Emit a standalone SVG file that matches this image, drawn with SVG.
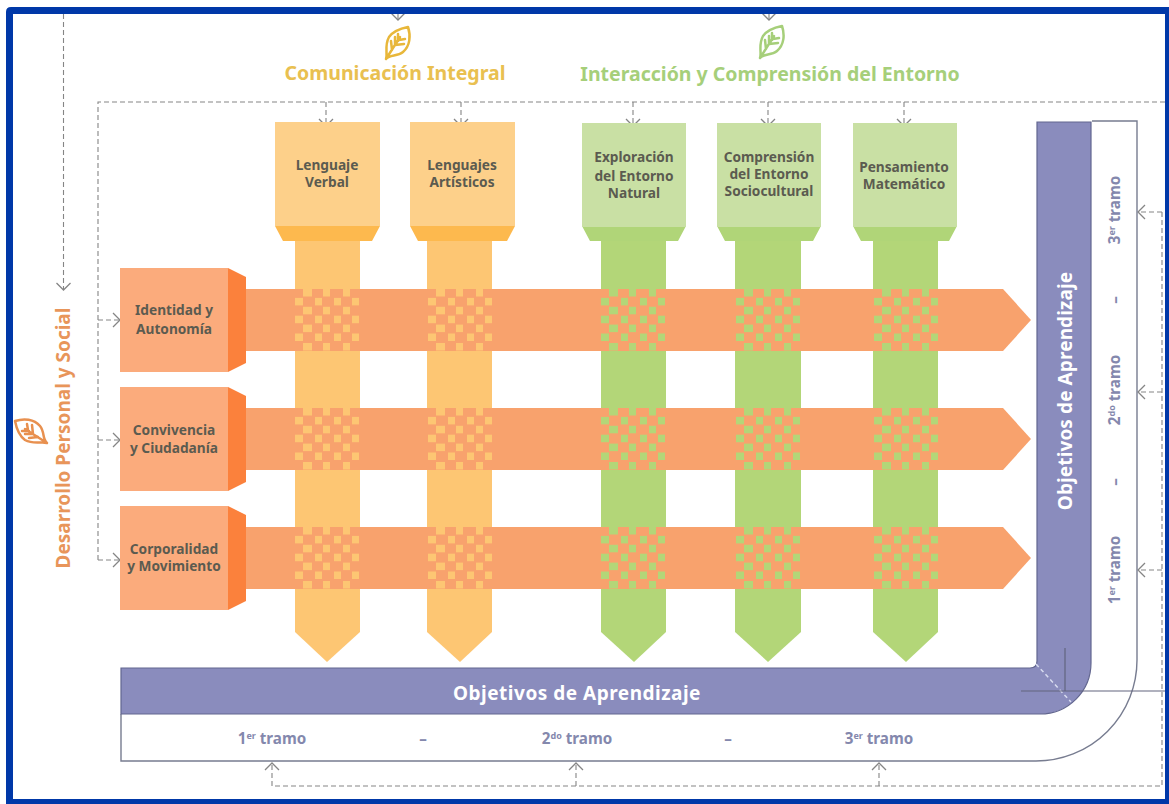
<svg xmlns="http://www.w3.org/2000/svg" width="1169" height="804" viewBox="0 0 1169 804">
<style>
text{font-family:"Noto Sans","Open Sans","DejaVu Sans",sans-serif;font-weight:700;text-anchor:middle}
.dash{fill:none;stroke:#858585;stroke-width:1.100;stroke-dasharray:5 3}
.ah{fill:none;stroke:#858585;stroke-width:1.300}
.lab{font-size:13.700px;fill:#5b5b50}
.tr{font-size:15.200px;fill:#8488ad}
.sup{font-size:9px}
.obj{font-size:19px;fill:#fff}
.leaf{fill:none;stroke-width:2.500;stroke-linecap:round;stroke-linejoin:round}
</style>
<defs>
<filter id="soft" x="-5%" y="-5%" width="110%" height="110%"><feGaussianBlur stdDeviation="0.550"/></filter>
<g id="wA"><rect x="8" width="9" height="7.500"/><rect x="28" width="7" height="7.500"/><rect x="48" width="7" height="7.500"/></g>
<g id="wB"><rect width="8" height="7.500"/><rect x="20" width="7" height="7.500"/><rect x="39" width="7" height="7.500"/><rect x="57" width="7" height="7.500"/></g>
<g id="weave" filter="url(#soft)">
<use href="#wA"/><use href="#wB" y="8.900"/><use href="#wA" y="17.800"/><use href="#wB" y="26.700"/><use href="#wA" y="35.600"/><use href="#wB" y="44.500"/><use href="#wA" y="54"/>
</g>
<g id="leaf"><path d="M-10 16C-8 11-12 3-7-6C-2-13 7-15 12-16C15-7 14 3 7 9C1 14-6 11-10 16ZM-10 16L4-6M-4 7L-5-2M-1 2L8 1M2-2L2-9M-1 2L-1-6M3-3L9-4"/></g>
<path id="ar" d="M-7-7L0 0L7-7"/>
</defs>
<rect width="1169" height="804" fill="#fff"/>
<g id="connectors">
<path class="dash" d="M98 560V102H1165M63.500 14V289M398 14V20M769 14V20M1162 212V786H272V764M576 786V764M879 786V764"/>
<path class="dash" d="M98 320H119M98 440H119M98 560H119M326 102V126M461 102V126M633 102V126M768 102V126M904 102V126M1162 212H1139M1162 392H1139M1162 570H1139"/>
<g class="ah">
<use href="#ar" x="63.500" y="290"/><use href="#ar" x="398" y="20"/><use href="#ar" x="769" y="20"/>
<use href="#ar" x="326" y="126"/><use href="#ar" x="461" y="126"/><use href="#ar" x="633" y="126"/><use href="#ar" x="768" y="126"/><use href="#ar" x="904" y="126"/>
<use href="#ar" transform="translate(120 320) rotate(-90)"/><use href="#ar" transform="translate(120 440) rotate(-90)"/><use href="#ar" transform="translate(120 560) rotate(-90)"/>
<use href="#ar" transform="translate(1138 212) rotate(90)"/><use href="#ar" transform="translate(1138 392) rotate(90)"/><use href="#ar" transform="translate(1138 570) rotate(90)"/>
<use href="#ar" transform="translate(272 763) rotate(180)"/><use href="#ar" transform="translate(576 763) rotate(180)"/><use href="#ar" transform="translate(879 763) rotate(180)"/>
</g>
</g>
<g id="bands">
<path d="M1092 121H1137V660A101 101 0 0 1 1036 761H121V714" fill="#fff" stroke="#777c90" stroke-width="1.400"/>
<path d="M1037 122H1091V663A51 51 0 0 1 1040 714H121V668H1030Q1037 668 1037 661Z" fill="#8a8cbd" stroke="#62668f" stroke-width="1.200"/>
<path d="M1036 664L1071 702" stroke="#d8dcf0" stroke-width="1.500" stroke-dasharray="4 3" fill="none"/>
<path d="M1021 691H1165M1065 648V691" stroke="#62657f" stroke-width="1.200" fill="none"/>
<text class="obj" x="577" y="700" letter-spacing="0.500">Objetivos de Aprendizaje</text>
<text class="obj" transform="translate(1072 391) rotate(-90)" letter-spacing="0.100">Objetivos de Aprendizaje</text>
<text class="tr" x="272" y="744">1<tspan class="sup" dy="-5">er</tspan><tspan dy="5"> tramo</tspan></text>
<text class="tr" x="423" y="744">–</text>
<text class="tr" x="577" y="744">2<tspan class="sup" dy="-5">do</tspan><tspan dy="5"> tramo</tspan></text>
<text class="tr" x="728" y="744">–</text>
<text class="tr" x="879" y="744">3<tspan class="sup" dy="-5">er</tspan><tspan dy="5"> tramo</tspan></text>
<text class="tr" transform="translate(1120 210) rotate(-90)">3<tspan class="sup" dy="-5">er</tspan><tspan dy="5"> tramo</tspan></text>
<text class="tr" transform="translate(1120 300) rotate(-90)">–</text>
<text class="tr" transform="translate(1120 390) rotate(-90)">2<tspan class="sup" dy="-5">do</tspan><tspan dy="5"> tramo</tspan></text>
<text class="tr" transform="translate(1120 482) rotate(-90)">–</text>
<text class="tr" transform="translate(1120 570) rotate(-90)">1<tspan class="sup" dy="-5">er</tspan><tspan dy="5"> tramo</tspan></text>
</g>
<g id="col-lenguaje-verbal">
<path d="M295 241H360V632L327 662L295 632Z" fill="#fdc673"/>
<path d="M275 226H380L372 241H283Z" fill="#fdb94e"/><rect x="275" y="122" width="105" height="104" fill="#fdd08a"/>
<text class="lab" x="327" y="170">Lenguaje</text><text class="lab" x="327" y="187">Verbal</text>
</g>
<g id="col-lenguajes-artisticos">
<path d="M427 241H492V632L460 662L427 632Z" fill="#fdc673"/>
<path d="M410 226H515L507 241H418Z" fill="#fdb94e"/><rect x="410" y="122" width="105" height="104" fill="#fdd08a"/>
<text class="lab" x="462" y="170">Lenguajes</text><text class="lab" x="462" y="187">Artísticos</text>
</g>
<g id="col-exploracion">
<path d="M601 241H666V632L634 662L601 632Z" fill="#b3d678"/>
<path d="M582 226H686L678 241H590Z" fill="#b0d578"/><rect x="582" y="123" width="104" height="104" fill="#c9e0a4"/>
<text class="lab" x="634" y="162">Exploración</text><text class="lab" x="634" y="181">del Entorno</text><text class="lab" x="634" y="198">Natural</text>
</g>
<g id="col-comprension">
<path d="M735 241H801V632L768 662L735 632Z" fill="#b3d678"/>
<path d="M717 226H821L813 241H725Z" fill="#b0d578"/><rect x="717" y="123" width="104" height="104" fill="#c9e0a4"/>
<text class="lab" x="769" y="162">Comprensión</text><text class="lab" x="769" y="179">del Entorno</text><text class="lab" x="769" y="196">Sociocultural</text>
</g>
<g id="col-pensamiento">
<path d="M873 241H938V632L906 662L873 632Z" fill="#b3d678"/>
<path d="M853 226H957L949 241H861Z" fill="#b0d578"/><rect x="853" y="123" width="104" height="104" fill="#c9e0a4"/>
<text class="lab" x="904" y="172">Pensamiento</text><text class="lab" x="904" y="189">Matemático</text>
</g>
<g id="row-identidad">
<path d="M246 289H1003L1031 320L1003 351H246Z" fill="#f8a26d"/>
<path d="M228 268L246 277V363L228 372Z" fill="#fb813c"/><rect x="120" y="268" width="108" height="104" fill="#fbab7c"/>
<text class="lab" x="174" y="315">Identidad y</text><text class="lab" x="174" y="334">Autonomía</text>
</g>
<g id="row-convivencia">
<path d="M246 408H1003L1031 439L1003 470H246Z" fill="#f8a26d"/>
<path d="M228 387L246 396V482L228 491Z" fill="#fb813c"/><rect x="120" y="387" width="108" height="104" fill="#fbab7c"/>
<text class="lab" x="174" y="435">Convivencia</text><text class="lab" x="174" y="453">y Ciudadanía</text>
</g>
<g id="row-corporalidad">
<path d="M246 527H1003L1031 558L1003 589H246Z" fill="#f8a26d"/>
<path d="M228 506L246 515V601L228 610Z" fill="#fb813c"/><rect x="120" y="506" width="108" height="104" fill="#fbab7c"/>
<text class="lab" x="174" y="554">Corporalidad</text><text class="lab" x="174" y="571">y Movimiento</text>
</g>
<g id="weaves">
<g fill="#fdc673"><use href="#weave" x="295" y="289"/><use href="#weave" x="428" y="289"/><use href="#weave" x="295" y="408"/><use href="#weave" x="428" y="408"/><use href="#weave" x="295" y="527"/><use href="#weave" x="428" y="527"/></g>
<g fill="#b3d678"><use href="#weave" x="601" y="289"/><use href="#weave" x="736" y="289"/><use href="#weave" x="874" y="289"/><use href="#weave" x="601" y="408"/><use href="#weave" x="736" y="408"/><use href="#weave" x="874" y="408"/><use href="#weave" x="601" y="527"/><use href="#weave" x="736" y="527"/><use href="#weave" x="874" y="527"/></g>
</g>
<g id="area-comunicacion">
<use href="#leaf" x="396" y="43" class="leaf" stroke="#e8b73a"/>
<text x="395" y="80" font-size="19.500" fill="#e9c050">Comunicación Integral</text>
</g>
<g id="area-interaccion">
<use href="#leaf" x="770" y="42" class="leaf" stroke="#a6cf7a"/>
<text x="770" y="81" font-size="19.500" fill="#a6cf7a">Interacción y Comprensión del Entorno</text>
</g>
<g id="area-desarrollo">
<use href="#leaf" transform="translate(31 433) rotate(-90)" class="leaf" stroke="#e8904f"/>
<text transform="translate(70 438) rotate(-90)" font-size="19" fill="#e8955a">Desarrollo Personal y Social</text>
</g>
<path id="frame" fill-rule="evenodd" fill="#0038a8" d="M11 7H1169V804H6V12Q6 7 11 7ZM13 14V799H1165V14Z"/>
</svg>
